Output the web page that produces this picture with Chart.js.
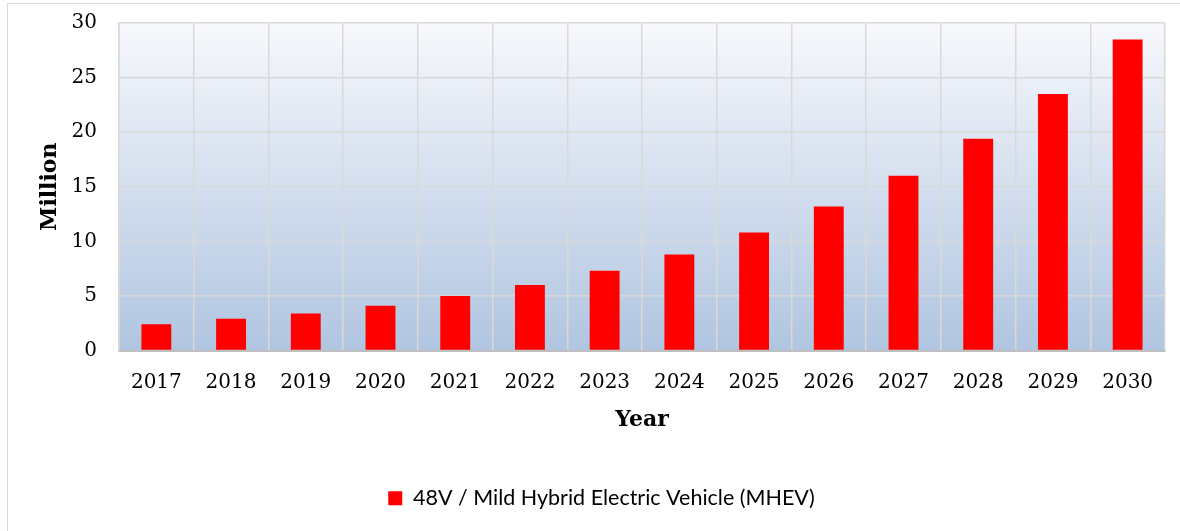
<!DOCTYPE html>
<html>
<head>
<meta charset="utf-8">
<script src="https://cdn.jsdelivr.net/npm/chart.js@4/dist/chart.umd.min.js"></script>
<style>
  html, body { margin: 0; padding: 0; background: #fff; }
  #wrap { position: relative; width: 1180px; height: 531px; }
  #frame { position: absolute; left: 7px; top: 3px; width: 1180px; height: 540px; border: 1.5px solid #d9d9d9; box-sizing: border-box; pointer-events: none; }
</style>
</head>
<body>
<div id="wrap">
  <canvas id="chart" width="1180" height="531"></canvas>
  <div id="frame"></div>
</div>
<script>
const years = ['2017', '2018', '2019', '2020', '2021', '2022', '2023', '2024', '2025', '2026', '2027', '2028', '2029', '2030'];
const mhevMillion = [2.4, 2.9, 3.4, 4.1, 5.0, 6.0, 7.3, 8.8, 10.8, 13.2, 16.0, 19.4, 23.5, 28.5];
const seriesLabel = '48V / Mild Hybrid Electric Vehicle (MHEV)';
const yTitle = 'Million';
const xTitle = 'Year';

// plot background gradient (white at top, soft blue at bottom)
const plotBackground = {
  id: 'plotBackground',
  beforeDraw(chart) {
    const { ctx, chartArea } = chart;
    if (!chartArea) return;
    const g = ctx.createLinearGradient(0, chartArea.top, 0, chartArea.bottom);
    g.addColorStop(0, '#f7f8fc');
    g.addColorStop(1, '#b0c5e0');
    ctx.save();
    ctx.fillStyle = g;
    ctx.fillRect(chartArea.left, chartArea.top, chartArea.right - chartArea.left, chartArea.bottom - chartArea.top);
    ctx.restore();
  }
};

// legend sits a bit right of the canvas centre in the original
const legendShift = {
  id: 'legendShift',
  afterLayout(chart) {
    if (chart.legend) {
      chart.legend.left += 19;
      chart.legend.right += 19;
    }
  }
};

new Chart(document.getElementById('chart'), {
  type: 'bar',
  data: {
    labels: years,
    datasets: [{
      label: seriesLabel,
      data: mhevMillion,
      backgroundColor: '#ff0000',
      borderColor: '#ff0000',
      borderWidth: 0,
      categoryPercentage: 1,
      barPercentage: 0.4
    }]
  },
  options: {
    responsive: false,
    animation: false,
    layout: { padding: { top: 23, right: 15, left: 0, bottom: 12 } },
    scales: {
      x: {
        grid: { color: '#d9d9d9', lineWidth: 1.5, drawTicks: false, offset: true },
        border: { color: '#bfbfbf', width: 2 },
        ticks: { color: '#000', padding: 20, font: { family: 'DejaVu Serif', size: 20 } },
        title: { display: true, text: xTitle, color: '#000', padding: { top: 0, bottom: 38 }, font: { family: 'DejaVu Serif', size: 22, weight: 'bold' } },
        afterFit(scale) { scale.height = 121; }
      },
      y: {
        min: 0,
        max: 30,
        ticks: { stepSize: 5, color: '#000', padding: 22, font: { family: 'DejaVu Serif', size: 20 } },
        grid: { color: '#d9d9d9', lineWidth: 1.5, drawTicks: false },
        border: { color: '#d9d9d9', width: 1.5 },
        title: { display: true, text: yTitle, color: '#000', padding: { top: 37, bottom: 0 }, font: { family: 'DejaVu Serif', size: 22, weight: 'bold' } },
        afterFit(scale) {
          scale.width = 119;
          scale.paddingTop = 10;
          scale.paddingBottom = 0;
        }
      }
    },
    plugins: {
      legend: {
        position: 'bottom',
        labels: { color: '#000', boxWidth: 14, boxHeight: 14, padding: 16, font: { family: 'Lato', size: 21.5 } }
      },
      tooltip: { enabled: false }
    }
  },
  plugins: [plotBackground, legendShift]
});
</script>
</body>
</html>
